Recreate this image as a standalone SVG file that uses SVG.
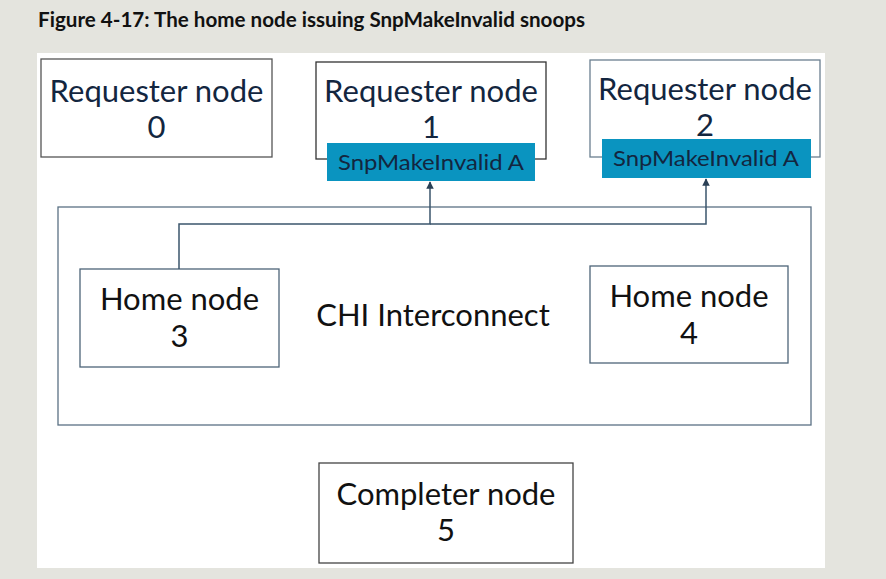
<svg xmlns="http://www.w3.org/2000/svg" width="886" height="579" viewBox="0 0 886 579">
<style>
.title{font-family:Lato,"Liberation Sans",sans-serif;font-weight:bold;font-size:20px;fill:#111}
.box{fill:#fff;stroke-width:1.3}
.lbl{font-family:Lato,"Open Sans","Liberation Sans",sans-serif;font-size:31px;text-anchor:middle}
.rn{fill:#13263f}
.hn{fill:#111}
.tag{fill:#0a94c0}
.tagt{font-family:Lato,"Liberation Sans",sans-serif;font-size:21.5px;text-anchor:middle;fill:#13263f}
.conn{fill:none;stroke:#3b556c;stroke-width:1.5}
</style>
<defs>
<marker id="arr" viewBox="0 0 10 10" refX="9" refY="5" markerWidth="5" markerHeight="5" orient="auto">
<path d="M0,0 L10,5 L0,10 z" fill="#2a3f55"/>
</marker>
</defs>
<rect width="886" height="579" fill="#e4e4de"/>
<text class="title" x="38" y="27" textLength="547" lengthAdjust="spacingAndGlyphs">Figure 4-17: The home node issuing SnpMakeInvalid snoops</text>
<rect x="37" y="53" width="788" height="515" fill="#fff"/>
<g id="interconnect">
<rect class="box" x="58" y="207" width="753" height="218" stroke="#5b7184"/>
<text class="lbl hn" x="433" y="326">CHI Interconnect</text>
</g>
<g id="rn0">
<rect class="box" x="41" y="59" width="231" height="98" stroke="#555"/>
<text class="lbl rn" x="156.5" y="102">Requester node</text>
<text class="lbl rn" x="156.5" y="138">0</text>
</g>
<g id="rn1">
<rect class="box" x="316" y="62" width="230" height="97" stroke="#333"/>
<text class="lbl rn" x="431" y="102">Requester node</text>
<text class="lbl rn" x="431" y="138">1</text>
<rect class="tag" x="327" y="143" width="208" height="38"/>
<text class="tagt" x="431" y="170" textLength="186" lengthAdjust="spacingAndGlyphs">SnpMakeInvalid A</text>
</g>
<g id="rn2">
<rect class="box" x="590" y="60" width="230" height="97" stroke="#6a7f90"/>
<text class="lbl rn" x="705" y="100">Requester node</text>
<text class="lbl rn" x="705" y="136">2</text>
<rect class="tag" x="602" y="139" width="209" height="39"/>
<text class="tagt" x="706" y="166" textLength="186" lengthAdjust="spacingAndGlyphs">SnpMakeInvalid A</text>
</g>
<g id="hn3">
<rect class="box" x="80" y="269" width="199" height="98" stroke="#4d6478"/>
<text class="lbl hn" x="179.5" y="310">Home node</text>
<text class="lbl hn" x="179.5" y="347">3</text>
</g>
<g id="hn4">
<rect class="box" x="590" y="266" width="198" height="97" stroke="#4d6478"/>
<text class="lbl hn" x="689" y="307">Home node</text>
<text class="lbl hn" x="689" y="344">4</text>
</g>
<g id="cn5">
<rect class="box" x="319" y="463" width="254" height="100" stroke="#444"/>
<text class="lbl hn" x="446" y="505">Completer node</text>
<text class="lbl hn" x="446" y="541">5</text>
</g>
<g id="connectors">
<path class="conn" d="M179,269 V224 H430 V182" marker-end="url(#arr)"/>
<path class="conn" d="M430,224 H706 V179" marker-end="url(#arr)"/>
</g>
</svg>
